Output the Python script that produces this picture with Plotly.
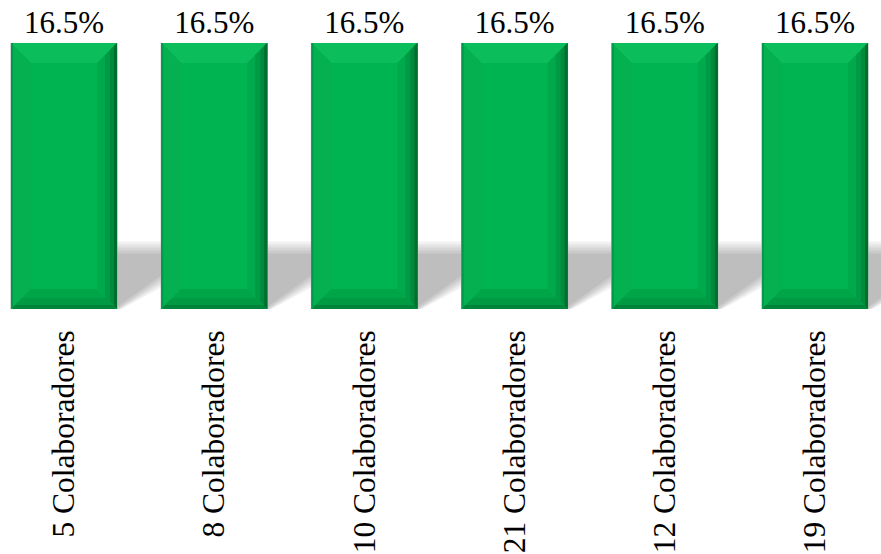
import plotly.graph_objects as go

# Chart data
categories = ["5 Colaboradores", "8 Colaboradores", "10 Colaboradores",
              "21 Colaboradores", "12 Colaboradores", "19 Colaboradores"]
values = [16.5, 16.5, 16.5, 16.5, 16.5, 16.5]
value_labels = ["16.5%"] * len(values)

FONT = "Times New Roman, Liberation Serif, Tinos, serif"
BAR_W = 0.706          # bar width in category units
GREEN = "#00b452"

# pixel geometry helpers (plot area spans full width, 266 px tall)
PX_X = 150.2           # pixels per category
PLOT_H = 266.0

xs = list(range(len(categories)))
ymax = max(values)

fig = go.Figure()
fig.add_trace(go.Bar(
    x=xs, y=values, width=BAR_W,
    marker=dict(color=GREEN, line=dict(color="rgba(165,185,170,0.9)", width=1)),
    text=value_labels, textposition="outside", cliponaxis=False,
    textfont=dict(family=FONT, size=31, color="black"),
    hoverinfo="skip",
))

shapes = []


def poly(points, **kw):
    d = "M " + " L ".join(f"{px},{py}" for px, py in points) + " Z"
    return dict(type="path", path=d, xref="x", yref="y", line=dict(width=0), **kw)


# soft floor shadow cast to the right of each bar
for i, v in zip(xs, values):
    R = i + BAR_W / 2
    nxt = i + 1 - BAR_W / 2
    for e in [9, 6, 3, 0, -3]:
        ex = e / PX_X
        ey = e / PLOT_H * ymax
        top = 0.22 * v + ey
        pts = [(i, top), (nxt + 0.25, top),
               (nxt + 0.25, 0.115 * v - ey), (nxt, 0.115 * v - ey),
               (R + ex * 0.5, max(0.0, -ey * 0.3)), (i, 0)]
        shapes.append(poly(pts, fillcolor="black", opacity=0.055, layer="below"))

# bevelled faces on each bar, built from stacked frames so the edges shade gradually
BEVEL = 20  # px
for i, v in zip(xs, values):
    L, R, T, B = i - BAR_W / 2, i + BAR_W / 2, v, 0.0
    bx = BEVEL / PX_X
    by = BEVEL / PLOT_H * v
    # top face (slightly lighter)
    shapes.append(poly([(L, T), (R, T), (R - bx, T - by), (L + bx, T - by)],
                       fillcolor="#0cbd5b", layer="above"))
    # left face (close to the body colour)
    shapes.append(poly([(L, T), (L + bx, T - by), (L + bx, B + by), (L, B)],
                       fillcolor="#04b050", layer="above"))
    # right face: graded from body tone to a dark edge
    for frac, col in [(1.0, "#00a94b"), (0.6, "#009a44"), (0.35, "#008a3c"), (0.15, "#006e2f")]:
        dx, dy = bx * frac, by * frac
        shapes.append(poly([(R, T), (R, B), (R - dx, B + dy), (R - dx, T - dy)],
                           fillcolor=col, layer="above"))
    # bottom face: graded darker toward the base
    for frac, col in [(1.0, "#00a547"), (0.55, "#009a42"), (0.2, "#00843a")]:
        dx, dy = bx * frac, by * frac
        shapes.append(poly([(L, B), (R, B), (R - dx, B + dy), (L + dx, B + dy)],
                           fillcolor=col, layer="above"))
    # thin darker line on the outer left edge
    lx = 2 / PX_X
    shapes.append(poly([(L, T), (L + lx, T), (L + lx, B), (L, B)],
                       fillcolor="#02994a", layer="above"))

fig.update_layout(
    width=881, height=554,
    margin=dict(l=0, r=0, t=43, b=245),
    paper_bgcolor="white", plot_bgcolor="white",
    showlegend=False,
    bargap=0.29,
    shapes=shapes,
    font=dict(family=FONT),
    xaxis=dict(
        range=[-64 / PX_X, (881 - 64) / PX_X],
        tickmode="array", tickvals=xs, ticktext=categories,
        tickangle=-90, ticklabelstandoff=14,
        tickfont=dict(family=FONT, size=31.5, color="black"),
        showgrid=False, zeroline=False, showline=False, ticks="",
    ),
    yaxis=dict(range=[0, ymax], visible=False, showgrid=False, zeroline=False),
)

fig.write_html("out.html")
